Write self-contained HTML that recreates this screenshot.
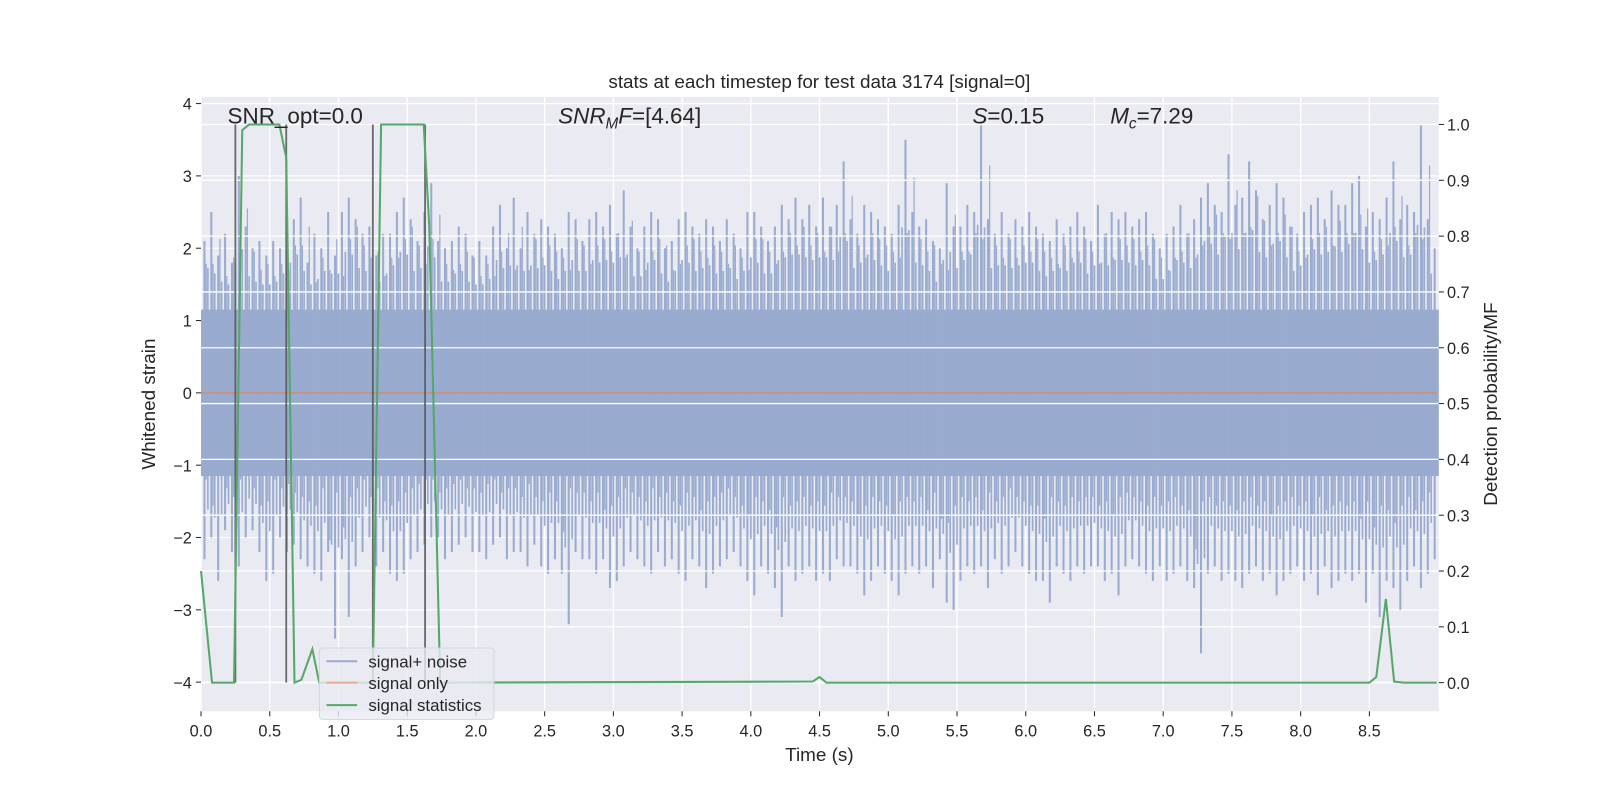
<!DOCTYPE html>
<html><head><meta charset="utf-8"><style>
body{margin:0;background:#fff}
svg{display:block;font-family:"Liberation Sans","DejaVu Sans",sans-serif}
</style></head><body>
<svg id="chart" width="1600" height="800" viewBox="0 0 1568 784">
<rect x="0" y="0" width="1568" height="784" fill="#fff"/>
<rect x="197" y="95" width="1213" height="602" fill="#EAEAF2"/>
<g id="vgrid"></g>
<g id="lgrid"></g>
<g id="noise"></g>
<g id="sigonly"></g>
<g id="rgrid"></g>
<g id="vlines"></g>
<g id="stats"></g>
<g id="xticks"></g>
<g id="lticks"></g>
<g id="rticks"></g>
<text x="803" y="86" text-anchor="middle" font-size="18.5" fill="#262626">stats at each timestep for test data 3174 [signal=0]</text>
<text x="803" y="746" text-anchor="middle" font-size="18.5" fill="#262626">Time (s)</text>
<text transform="translate(152,396) rotate(-90)" text-anchor="middle" font-size="18.5" fill="#262626">Whitened strain</text>
<text transform="translate(1467,396) rotate(-90)" text-anchor="middle" font-size="18.5" fill="#262626">Detection probability/MF</text>
<text x="223" y="121" font-size="22" fill="#262626">SNR_opt=0.0</text>
<text x="547" y="121" font-size="22" fill="#262626"><tspan font-style="italic">SNR</tspan><tspan font-style="italic" font-size="15" dy="5">M</tspan><tspan font-style="italic" dy="-5">F</tspan>=[4.64]</text>
<text x="953" y="121" font-size="22" fill="#262626"><tspan font-style="italic">S</tspan>=0.15</text>
<text x="1088" y="121" font-size="22" fill="#262626"><tspan font-style="italic">M</tspan><tspan font-style="italic" font-size="15" dy="5">c</tspan><tspan dy="-5">=7.29</tspan></text>
<g>
<rect x="313" y="635" width="171" height="70" rx="3" fill="#EAEAF2" fill-opacity="0.8" stroke="#d5d5dc"/>
<line x1="320" y1="648" x2="350" y2="648" stroke="#99abcf" stroke-width="2"/>
<text x="361" y="654" font-size="16.5" fill="#262626">signal+ noise</text>
<line x1="320" y1="669" x2="350" y2="669" stroke="#E5AE8C" stroke-width="2"/>
<text x="361" y="675" font-size="16.5" fill="#262626">signal only</text>
<line x1="320" y1="691" x2="350" y2="691" stroke="#55A868" stroke-width="2"/>
<text x="361" y="697" font-size="16.5" fill="#262626">signal statistics</text>
</g>
</svg>
<script>
const xTicks=[0,0.5,1,1.5,2,2.5,3,3.5,4,4.5,5,5.5,6,6.5,7,7.5,8,8.5];
const xTickLabels=["0.0","0.5","1.0","1.5","2.0","2.5","3.0","3.5","4.0","4.5","5.0","5.5","6.0","6.5","7.0","7.5","8.0","8.5"];
const leftTicks=[-4,-3,-2,-1,0,1,2,3,4];
const rightTicks=[0,0.1,0.2,0.3,0.4,0.5,0.6,0.7,0.8,0.9,1.0];
const rightTickLabels=["0.0","0.1","0.2","0.3","0.4","0.5","0.6","0.7","0.8","0.9","1.0"];
const noiseBinWidth=0.05;
const noiseCore=1.15;
const noiseHi=[2.1,2.5,1.9,2.2,1.8,3.0,2.3,2.0,2.1,1.9,
2.1,2.0,2.4,2.4,2.7,1.8,2.2,2.0,2.5,1.9,
2.5,2.7,2.4,2.2,2.3,1.9,2.2,2.2,2.5,2.7,
2.4,2.1,2.5,2.9,2.1,2.0,2.1,2.3,2.2,1.9,
2.1,1.9,2.3,2.6,2.0,2.7,2.0,2.5,2.2,2.4,
2.3,2.2,2.0,2.5,2.4,2.1,2.4,2.5,2.3,2.6,
2.2,2.8,2.3,2.0,2.3,2.5,2.4,2.0,2.1,2.4,
2.5,2.3,2.2,2.4,2.3,2.1,2.4,2.2,2.0,2.5,
2.5,2.3,2.1,2.3,2.6,2.4,2.7,2.4,2.6,2.3,
2.7,2.3,2.6,3.2,2.4,2.2,2.6,2.5,2.4,2.3,
2.2,2.6,3.5,2.5,2.3,2.4,2.1,2.0,2.9,2.3,
2.3,2.6,2.5,3.7,2.4,2.2,2.5,2.2,2.4,2.3,
2.5,2.3,2.2,2.1,2.4,2.2,2.3,2.5,2.3,2.1,
2.6,2.2,2.5,2.4,2.5,2.3,2.4,2.5,2.2,2.0,
2.2,2.3,2.6,2.2,2.4,2.7,2.9,2.6,2.5,3.3,
2.6,2.7,3.2,2.8,2.4,2.6,2.9,2.7,2.3,2.2,
2.5,2.6,2.7,2.4,2.8,2.6,2.6,2.9,3.0,2.3,
2.5,2.4,2.7,3.2,2.4,2.6,2.5,3.7,2.4,2.0];
const noiseLo=[-2.3,-2.0,-2.6,-1.9,-2.2,-2.4,-2.0,-1.9,-2.2,-2.6,
-2.5,-2.0,-2.2,-2.1,-2.3,-2.4,-2.5,-2.6,-2.2,-3.4,
-2.3,-3.1,-2.4,-2.2,-2.0,-2.4,-2.2,-2.5,-2.6,-2.5,
-2.3,-2.2,-2.1,-2.0,-2.0,-2.3,-2.2,-2.1,-2.0,-2.2,
-2.2,-2.3,-2.1,-2.0,-2.3,-2.2,-2.2,-2.4,-2.1,-2.4,
-2.5,-2.3,-2.5,-3.2,-2.2,-2.3,-2.3,-2.5,-2.3,-2.7,
-2.6,-2.4,-2.2,-2.3,-2.4,-2.5,-2.2,-2.4,-2.3,-2.5,
-2.6,-2.3,-2.4,-2.7,-2.5,-2.4,-2.3,-2.2,-2.4,-2.6,
-2.8,-2.4,-2.5,-2.7,-3.1,-2.4,-2.6,-2.5,-2.4,-2.6,
-2.5,-2.6,-2.3,-2.4,-2.4,-2.5,-2.8,-2.6,-2.4,-2.5,
-2.6,-2.8,-2.5,-2.4,-2.5,-2.4,-2.7,-2.3,-2.9,-3.0,
-2.6,-2.4,-2.5,-2.4,-2.7,-2.3,-2.5,-2.4,-2.2,-2.4,
-2.5,-2.6,-2.6,-2.9,-2.4,-2.5,-2.6,-2.4,-2.5,-2.4,
-2.4,-2.6,-2.5,-2.8,-2.4,-2.3,-2.4,-2.5,-2.6,-2.4,
-2.6,-2.5,-2.4,-2.6,-2.7,-3.6,-2.5,-2.4,-2.6,-2.5,
-2.6,-2.7,-2.5,-2.4,-2.6,-2.5,-2.8,-2.6,-2.5,-2.4,
-2.6,-2.5,-2.8,-2.4,-2.7,-2.6,-2.5,-2.6,-2.5,-2.9,
-2.5,-3.1,-2.6,-2.7,-3.0,-2.6,-2.4,-2.7,-2.5,-2.3];
const statT=[0,0.08,0.24,0.3,0.35,0.57,0.62,0.68,0.73,0.81,0.86,1.25,1.31,1.62,1.66,1.74,4.45,4.5,4.55,8.5,8.55,8.62,8.68,8.75,8.99];
const statV=[0.2,0,0,0.99,1.0,1.0,0.94,0,0.005,0.06,0,0,1.0,1.0,0.82,0,0.002,0.01,0,0,0.01,0.15,0.002,0,0];
const markerT=[0.25,0.62,1.25,1.63];
const signalT=[0,8.99];
const signalV=[0,0];

const X0=197,X1=1410,xMax=9.0;
const xs=t=>X0+t/8.5*(1342-X0);
const yl=v=>385-v*70.875;
const yr=p=>669-p*547;
const NS='http://www.w3.org/2000/svg';
function mk(tag,attrs,parent){const e=document.createElementNS(NS,tag);for(const k in attrs)e.setAttribute(k,attrs[k]);document.getElementById(parent).appendChild(e);return e;}

xTicks.forEach((t,i)=>{
 const g=mk('line',{x1:xs(t),x2:xs(t),y1:95,y2:697,stroke:'#fff','stroke-width':1.3},'vgrid');
 
 
 const tk=mk('line',{x1:xs(t),x2:xs(t),y1:697,y2:702,stroke:'#262626','stroke-width':1},'xticks');
 
 
 const tx=mk('text',{x:xs(t),y:722,'text-anchor':'middle','font-size':16,fill:'#262626'},'xticks');
 tx.textContent=xTickLabels[i];
 
 
});
leftTicks.forEach(v=>{
 const g=mk('line',{x1:X0,x2:X1,y1:yl(v),y2:yl(v),stroke:'#fff','stroke-width':1.3},'lgrid');
 
 
 const tk=mk('line',{x1:192,x2:197,y1:yl(v),y2:yl(v),stroke:'#262626','stroke-width':1},'lticks');
 
 
 const tx=mk('text',{x:188,y:yl(v)+6,'text-anchor':'end','font-size':16,fill:'#262626'},'lticks');
 tx.textContent=v<0?'\u2212'+(-v):String(v);
 
 
});
const core=mk('rect',{x:X0,y:yl(noiseCore),width:X1-X0,height:yl(-noiseCore)-yl(noiseCore),fill:'#99abcf'},'noise');


noiseHi.forEach((h,i)=>{
 const t=(i+0.5)*noiseBinWidth;
 if(t>xMax)return;
 const l=mk('line',{x1:xs(t),x2:xs(t),y1:yl(h),y2:yl(noiseLo[i]),stroke:'#99abcf','stroke-width':2},'noise');
 
 
 const n=i+1<noiseHi.length?i+1:i;
 const p=i>0?i-1:i;
 const t2=t+noiseBinWidth/2;
 if(t2<xMax){
  const l2=mk('line',{x1:xs(t2),x2:xs(t2),y1:yl(0.75*(h+noiseHi[n])/2),y2:yl(0.75*(noiseLo[i]+noiseLo[n])/2),stroke:'#99abcf','stroke-width':1.6},'noise');
  
  
  const t3=t+noiseBinWidth/4;
  const l3=mk('line',{x1:xs(t3),x2:xs(t3),y1:yl(0.85*noiseHi[p]),y2:yl(0.6*noiseLo[n]),stroke:'#99abcf','stroke-width':1.2},'noise');
  
  
 }
});
const sp=mk('polyline',{points:signalT.map((t,i)=>xs(t)+','+yl(signalV[i])).join(' '),fill:'none',stroke:'#DD8452','stroke-opacity':0.7,'stroke-width':1.5},'sigonly');


rightTicks.forEach((p,i)=>{
 const g=mk('line',{x1:X0,x2:X1,y1:yr(p),y2:yr(p),stroke:'#fff','stroke-width':1.3},'rgrid');
 
 
 const tk=mk('line',{x1:1410,x2:1415,y1:yr(p),y2:yr(p),stroke:'#262626','stroke-width':1},'rticks');
 
 
 const tx=mk('text',{x:1418,y:yr(p)+6,'font-size':16,fill:'#262626'},'rticks');
 tx.textContent=rightTickLabels[i];
 
 
});
markerT.forEach(t=>{
 const l=mk('line',{x1:xs(t),x2:xs(t),y1:yr(1),y2:yr(0),stroke:'#555','stroke-opacity':0.85,'stroke-width':1.8},'vlines');
 
 
});
const st=mk('polyline',{points:statT.map((t,i)=>xs(t)+','+yr(statV[i])).join(' '),fill:'none',stroke:'#55A868','stroke-width':2},'stats');


</script>
</body></html>
